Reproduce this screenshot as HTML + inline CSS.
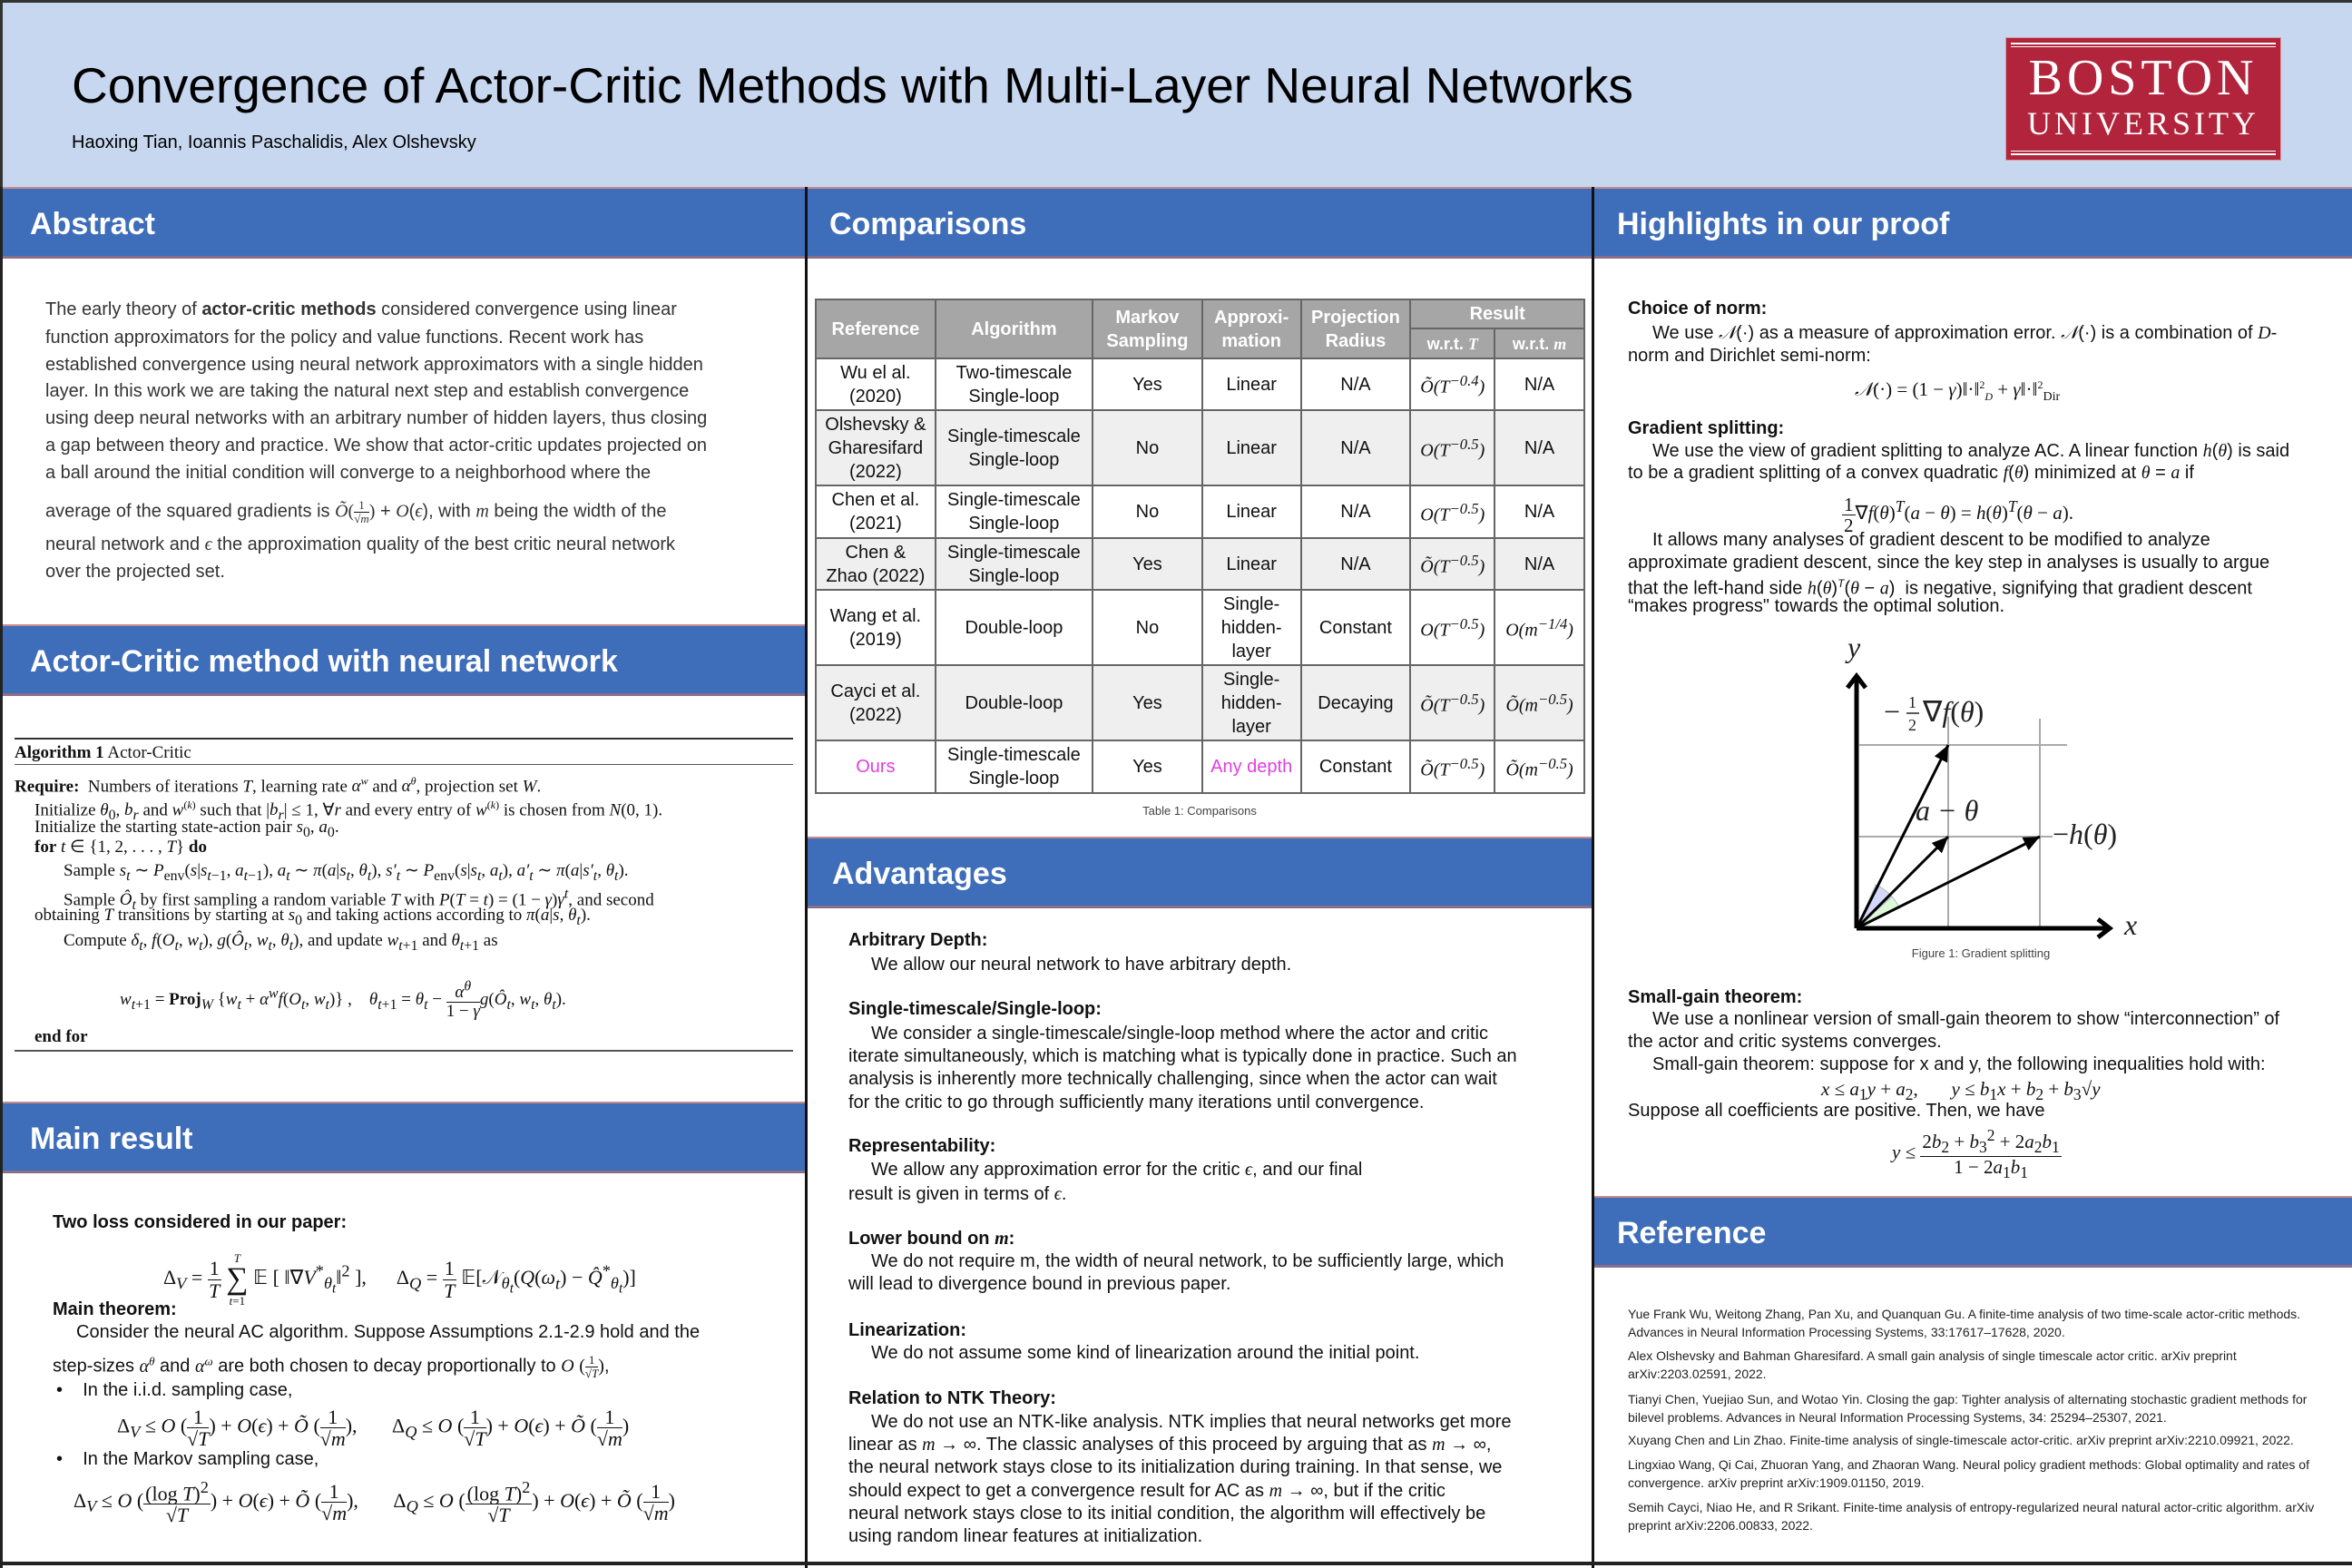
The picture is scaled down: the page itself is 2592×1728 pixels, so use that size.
<!DOCTYPE html>
<html><head><meta charset="utf-8">
<style>
*{margin:0;padding:0;box-sizing:border-box}
body{width:2592px;height:1728px;position:relative;background:#fff;overflow:hidden;font-family:"Liberation Sans",sans-serif;color:#111}
.a{position:absolute;white-space:nowrap;font-size:20px;line-height:24px}
.s{font-family:"Liberation Serif",serif}
.m{font-family:"Liberation Serif",serif;font-style:italic}
.hd{position:absolute;background:#3e6dba;border-top:2px solid #c98a8a;border-bottom:3px solid #8a6f8a;color:#fff;font-weight:bold;font-size:34px;line-height:78px;padding-left:30px}
.fr{display:inline-flex;flex-direction:column;vertical-align:middle;text-align:center;line-height:1.05}
.fr>span:first-child{border-bottom:1.5px solid #111;padding:0 2px}
.g{color:#333}
table{position:absolute;border-collapse:collapse;font-size:20px;line-height:26px;text-align:center}
td,th{border:2px solid #666;padding:0}
th{background:#a6a6a6;color:#fff;font-weight:bold}
tr.e td{background:#efefef}
.pk{color:#e040e0}
.alg{position:absolute;white-space:nowrap;font-family:"Liberation Serif",serif;font-size:19px;line-height:22px}
.ref{position:absolute;font-size:14px;line-height:20px;color:#222;white-space:nowrap}
</style></head><body>

<!-- header -->
<div style="position:absolute;left:0;top:0;width:2592px;height:206px;background:#c6d7ef;border-top:3px solid #333;border-left:3px solid #333"></div>
<div class="a" style="left:79px;top:66px;font-size:55px;line-height:56px;color:#000">Convergence of Actor-Critic Methods with Multi-Layer Neural Networks</div>
<div class="a" style="left:79px;top:145px;color:#000">Haoxing Tian, Ioannis Paschalidis, Alex Olshevsky</div>
<div style="position:absolute;left:2210px;top:41px;width:304px;height:136px;background:#b2243b;border:1px solid #d99"></div>
<div style="position:absolute;left:2216px;top:47px;width:292px;height:2px;background:#fff"></div>
<div style="position:absolute;left:2216px;top:51px;width:292px;height:1px;background:#fff"></div>
<div style="position:absolute;left:2216px;top:166px;width:292px;height:1px;background:#fff"></div>
<div style="position:absolute;left:2216px;top:169px;width:292px;height:2px;background:#fff"></div>
<div class="a s" style="left:2210px;width:304px;text-align:center;top:58px;font-size:56px;line-height:56px;color:#fff;letter-spacing:5px">BOSTON</div>
<div class="a s" style="left:2210px;width:304px;text-align:center;top:118px;font-size:36px;line-height:36px;color:#fff;letter-spacing:4px">UNIVERSITY</div>

<!-- column separators and borders -->
<div style="position:absolute;left:0;top:206px;width:3px;height:1522px;background:#222"></div>
<div style="position:absolute;left:887px;top:206px;width:3px;height:1522px;background:#111"></div>
<div style="position:absolute;left:1754px;top:206px;width:3px;height:1522px;background:#111"></div>
<div style="position:absolute;left:0;top:1721px;width:2592px;height:4px;background:#222"></div>

<!-- section headers -->
<div class="hd" style="left:3px;top:206px;width:884px;height:79px">Abstract</div>
<div class="hd" style="left:890px;top:206px;width:864px;height:79px;padding-left:24px">Comparisons</div>
<div class="hd" style="left:1757px;top:206px;width:835px;height:79px;padding-left:25px">Highlights in our proof</div>
<div class="hd" style="left:3px;top:688px;width:884px;height:79px">Actor-Critic method with neural network</div>
<div class="hd" style="left:3px;top:1214px;width:884px;height:79px">Main result</div>
<div class="hd" style="left:890px;top:922px;width:864px;height:79px;padding-left:27px">Advantages</div>
<div class="hd" style="left:1757px;top:1318px;width:835px;height:79px;padding-left:25px">Reference</div>

<!-- abstract -->
<div class="g">
<div class="a" style="left:50px;top:329px">The early theory of <b>actor-critic methods</b> considered convergence using linear</div>
<div class="a" style="left:50px;top:360px">function approximators for the policy and value functions. Recent work has</div>
<div class="a" style="left:50px;top:390px">established convergence using neural network approximators with a single hidden</div>
<div class="a" style="left:50px;top:419px">layer. In this work we are taking the natural next step and establish convergence</div>
<div class="a" style="left:50px;top:449px">using deep neural networks with an arbitrary number of hidden layers, thus closing</div>
<div class="a" style="left:50px;top:479px">a gap between theory and practice. We show that actor-critic updates projected on</div>
<div class="a" style="left:50px;top:509px">a ball around the initial condition will converge to a neighborhood where the</div>
<div class="a" style="left:50px;top:550px">average of the squared gradients is <span class="m">Õ</span><span class="s">(</span><span class="fr s" style="font-size:13px"><span>1</span><span>√<i>m</i></span></span><span class="s">)</span> + <span class="m">O</span>(<span class="m">ϵ</span>), with <span class="m">m</span> being the width of the</div>
<div class="a" style="left:50px;top:588px">neural network and <span class="m">ϵ</span> the approximation quality of the best critic neural network</div>
<div class="a" style="left:50px;top:618px">over the projected set.</div>
</div>

<!-- algorithm -->
<div style="position:absolute;left:16px;top:813px;width:858px;height:2px;background:#333"></div>
<div class="alg" style="left:16px;top:819px"><b>Algorithm 1</b> Actor-Critic</div>
<div style="position:absolute;left:16px;top:842px;width:858px;height:1px;background:#555"></div>
<div class="alg" style="left:16px;top:850px"><b>Require:</b>&nbsp; Numbers of iterations <i>T</i>, learning rate <i>α<sup style="font-size:12px">w</sup></i> and <i>α<sup style="font-size:12px">θ</sup></i>, projection set <i>W</i>.</div>
<div class="alg" style="left:38px;top:876px">Initialize <i>θ</i><sub>0</sub>, <i>b<sub>r</sub></i> and <i>w</i><sup style="font-size:12px">(<i>k</i>)</sup> such that |<i>b<sub>r</sub></i>| ≤ 1, ∀<i>r</i> and every entry of <i>w</i><sup style="font-size:12px">(<i>k</i>)</sup> is chosen from <i>N</i>(0, 1).</div>
<div class="alg" style="left:38px;top:901px">Initialize the starting state-action pair <i>s</i><sub>0</sub>, <i>a</i><sub>0</sub>.</div>
<div class="alg" style="left:38px;top:923px"><b>for</b> <i>t</i> ∈ {1, 2, . . . , <i>T</i>} <b>do</b></div>
<div class="alg" style="left:70px;top:949px">Sample <i>s<sub>t</sub></i> ∼ <i>P</i><sub>env</sub>(<i>s</i>|<i>s</i><sub><i>t</i>−1</sub>, <i>a</i><sub><i>t</i>−1</sub>), <i>a<sub>t</sub></i> ∼ <i>π</i>(<i>a</i>|<i>s<sub>t</sub></i>, <i>θ<sub>t</sub></i>), <i>s′<sub>t</sub></i> ∼ <i>P</i><sub>env</sub>(<i>s</i>|<i>s<sub>t</sub></i>, <i>a<sub>t</sub></i>), <i>a′<sub>t</sub></i> ∼ <i>π</i>(<i>a</i>|<i>s′<sub>t</sub></i>, <i>θ<sub>t</sub></i>).</div>
<div class="alg" style="left:70px;top:975px">Sample <i>Ô<sub>t</sub></i> by first sampling a random variable <i>T</i> with <i>P</i>(<i>T</i> = <i>t</i>) = (1 − <i>γ</i>)<i>γ<sup>t</sup></i>, and second</div>
<div class="alg" style="left:38px;top:998px">obtaining <i>T</i> transitions by starting at <i>s</i><sub>0</sub> and taking actions according to <i>π</i>(<i>a</i>|<i>s</i>, <i>θ<sub>t</sub></i>).</div>
<div class="alg" style="left:70px;top:1026px">Compute <i>δ<sub>t</sub></i>, <i>f</i>(<i>O<sub>t</sub></i>, <i>w<sub>t</sub></i>), <i>g</i>(<i>Ô<sub>t</sub></i>, <i>w<sub>t</sub></i>, <i>θ<sub>t</sub></i>), and update <i>w</i><sub><i>t</i>+1</sub> and <i>θ</i><sub><i>t</i>+1</sub> as</div>
<div class="alg" style="left:132px;top:1080px"><i>w</i><sub><i>t</i>+1</sub> = <b>Proj</b><sub><i>W</i></sub> {<i>w<sub>t</sub></i> + <i>α<sup>w</sup>f</i>(<i>O<sub>t</sub></i>, <i>w<sub>t</sub></i>)} ,&nbsp;&nbsp;&nbsp; <i>θ</i><sub><i>t</i>+1</sub> = <i>θ<sub>t</sub></i> − <span class="fr"><span><i>α<sup>θ</sup></i></span><span>1 − <i>γ</i></span></span><i>g</i>(<i>Ô<sub>t</sub></i>, <i>w<sub>t</sub></i>, <i>θ<sub>t</sub></i>).</div>
<div class="alg" style="left:38px;top:1132px"><b>end for</b></div>
<div style="position:absolute;left:16px;top:1157px;width:858px;height:2px;background:#555"></div>

<!-- main result -->
<div class="a" style="left:58px;top:1335px"><b>Two loss considered in our paper:</b></div>
<div class="a s" style="left:180px;top:1380px;font-size:22px;line-height:34px">Δ<sub><i>V</i></sub> = <span class="fr"><span>1</span><span><i>T</i></span></span> <span style="display:inline-flex;flex-direction:column;vertical-align:middle;text-align:center;line-height:1;font-size:13px"><i>T</i><span style="font-size:34px">∑</span><span><i>t</i>=1</span></span> 𝔼 [ ‖∇<i>V</i><sup>*</sup><sub><i>θ<sub>t</sub></i></sub>‖<sup>2</sup> ],&nbsp;&nbsp;&nbsp;&nbsp;&nbsp; Δ<sub><i>Q</i></sub> = <span class="fr"><span>1</span><span><i>T</i></span></span> 𝔼[𝒩<sub><i>θ<sub>t</sub></i></sub>(<i>Q</i>(<i>ω<sub>t</sub></i>) − <i>Q̂</i><sup>*</sup><sub><i>θ<sub>t</sub></i></sub>)]</div>
<div class="a" style="left:58px;top:1431px"><b>Main theorem:</b></div>
<div class="a" style="left:84px;top:1456px">Consider the neural AC algorithm. Suppose Assumptions 2.1-2.9 hold and the</div>
<div class="a" style="left:58px;top:1488px">step-sizes <span class="m">α<sup style="font-size:13px">θ</sup></span> and <span class="m">α<sup style="font-size:13px">ω</sup></span> are both chosen to decay proportionally to <span class="m">O</span> <span class="s">(</span><span class="fr s" style="font-size:13px"><span>1</span><span>√<i>T</i></span></span><span class="s">)</span>,</div>
<div class="a" style="left:62px;top:1520px">•&nbsp;&nbsp;&nbsp; In the i.i.d. sampling case,</div>
<div class="a s" style="left:129px;top:1550px;font-size:22px;line-height:40px">Δ<sub><i>V</i></sub> ≤ <i>O</i> (<span class="fr"><span>1</span><span>√<i>T</i></span></span>) + <i>O</i>(<i>ϵ</i>) + <i>Õ</i> (<span class="fr"><span>1</span><span>√<i>m</i></span></span>),&nbsp;&nbsp;&nbsp;&nbsp;&nbsp;&nbsp; Δ<sub><i>Q</i></sub> ≤ <i>O</i> (<span class="fr"><span>1</span><span>√<i>T</i></span></span>) + <i>O</i>(<i>ϵ</i>) + <i>Õ</i> (<span class="fr"><span>1</span><span>√<i>m</i></span></span>)</div>
<div class="a" style="left:62px;top:1596px">•&nbsp;&nbsp;&nbsp; In the Markov sampling case,</div>
<div class="a s" style="left:81px;top:1630px;font-size:22px;line-height:46px">Δ<sub><i>V</i></sub> ≤ <i>O</i> (<span class="fr"><span>(log <i>T</i>)<sup>2</sup></span><span>√<i>T</i></span></span>) + <i>O</i>(<i>ϵ</i>) + <i>Õ</i> (<span class="fr"><span>1</span><span>√<i>m</i></span></span>),&nbsp;&nbsp;&nbsp;&nbsp;&nbsp;&nbsp; Δ<sub><i>Q</i></sub> ≤ <i>O</i> (<span class="fr"><span>(log <i>T</i>)<sup>2</sup></span><span>√<i>T</i></span></span>) + <i>O</i>(<i>ϵ</i>) + <i>Õ</i> (<span class="fr"><span>1</span><span>√<i>m</i></span></span>)</div>

<!-- table -->
<table style="left:898px;top:329px;width:849px">
<colgroup><col style="width:132px"><col style="width:174px"><col style="width:121px"><col style="width:109px"><col style="width:121px"><col style="width:93px"><col style="width:99px"></colgroup>
<tr style="height:32px"><th rowspan="2">Reference</th><th rowspan="2">Algorithm</th><th rowspan="2">Markov<br>Sampling</th><th rowspan="2">Approxi-<br>mation</th><th rowspan="2">Projection<br>Radius</th><th colspan="2">Result</th></tr>
<tr style="height:33px"><th style="font-size:18px">w.r.t. <span class="m">T</span></th><th style="font-size:18px">w.r.t. <span class="m">m</span></th></tr>
<tr style="height:57px"><td>Wu el al.<br>(2020)</td><td>Two-timescale<br>Single-loop</td><td>Yes</td><td>Linear</td><td>N/A</td><td class="m">Õ(T<sup>−0.4</sup>)</td><td>N/A</td></tr>
<tr class="e" style="height:83px"><td>Olshevsky &amp;<br>Gharesifard<br>(2022)</td><td>Single-timescale<br>Single-loop</td><td>No</td><td>Linear</td><td>N/A</td><td class="m">O(T<sup>−0.5</sup>)</td><td>N/A</td></tr>
<tr style="height:58px"><td>Chen et al.<br>(2021)</td><td>Single-timescale<br>Single-loop</td><td>No</td><td>Linear</td><td>N/A</td><td class="m">O(T<sup>−0.5</sup>)</td><td>N/A</td></tr>
<tr class="e" style="height:57px"><td>Chen &amp;<br>Zhao (2022)</td><td>Single-timescale<br>Single-loop</td><td>Yes</td><td>Linear</td><td>N/A</td><td class="m">Õ(T<sup>−0.5</sup>)</td><td>N/A</td></tr>
<tr style="height:83px"><td>Wang et al.<br>(2019)</td><td>Double-loop</td><td>No</td><td>Single-<br>hidden-<br>layer</td><td>Constant</td><td class="m">O(T<sup>−0.5</sup>)</td><td class="m">O(m<sup>−1/4</sup>)</td></tr>
<tr class="e" style="height:83px"><td>Cayci et al.<br>(2022)</td><td>Double-loop</td><td>Yes</td><td>Single-<br>hidden-<br>layer</td><td>Decaying</td><td class="m">Õ(T<sup>−0.5</sup>)</td><td class="m">Õ(m<sup>−0.5</sup>)</td></tr>
<tr style="height:58px"><td class="pk">Ours</td><td>Single-timescale<br>Single-loop</td><td>Yes</td><td class="pk">Any depth</td><td>Constant</td><td class="m">Õ(T<sup>−0.5</sup>)</td><td class="m">Õ(m<sup>−0.5</sup>)</td></tr>
</table>
<div class="a" style="left:890px;width:864px;text-align:center;top:885px;font-size:13px;line-height:18px;color:#444">Table 1: Comparisons</div>

<!-- advantages -->
<div class="a" style="left:935px;top:1024px"><b>Arbitrary Depth:</b></div>
<div class="a" style="left:960px;top:1051px">We allow our neural network to have arbitrary depth.</div>
<div class="a" style="left:935px;top:1100px"><b>Single-timescale/Single-loop:</b></div>
<div class="a" style="left:960px;top:1127px">We consider a single-timescale/single-loop method where the actor and critic</div>
<div class="a" style="left:935px;top:1152px">iterate simultaneously, which is matching what is typically done in practice. Such an</div>
<div class="a" style="left:935px;top:1177px">analysis is inherently more technically challenging, since when the actor can wait</div>
<div class="a" style="left:935px;top:1203px">for the critic to go through sufficiently many iterations until convergence.</div>
<div class="a" style="left:935px;top:1251px"><b>Representability:</b></div>
<div class="a" style="left:960px;top:1277px">We allow any approximation error for the critic <span class="m">ϵ</span>, and our final</div>
<div class="a" style="left:935px;top:1304px">result is given in terms of <span class="m">ϵ</span>.</div>
<div class="a" style="left:935px;top:1353px"><b>Lower bound on <span class="m">m</span>:</b></div>
<div class="a" style="left:960px;top:1378px">We do not require m, the width of neural network, to be sufficiently large, which</div>
<div class="a" style="left:935px;top:1403px">will lead to divergence bound in previous paper.</div>
<div class="a" style="left:935px;top:1454px"><b>Linearization:</b></div>
<div class="a" style="left:960px;top:1479px">We do not assume some kind of linearization around the initial point.</div>
<div class="a" style="left:935px;top:1529px"><b>Relation to NTK Theory:</b></div>
<div class="a" style="left:960px;top:1555px">We do not use an NTK-like analysis. NTK implies that neural networks get more</div>
<div class="a" style="left:935px;top:1580px">linear as <span class="m">m</span> → ∞. The classic analyses of this proceed by arguing that as <span class="m">m</span> → ∞,</div>
<div class="a" style="left:935px;top:1605px">the neural network stays close to its initialization during training. In that sense, we</div>
<div class="a" style="left:935px;top:1631px">should expect to get a convergence result for AC as <span class="m">m</span> → ∞, but if the critic</div>
<div class="a" style="left:935px;top:1656px">neural network stays close to its initial condition, the algorithm will effectively be</div>
<div class="a" style="left:935px;top:1681px">using random linear features at initialization.</div>

<!-- highlights -->
<div class="a" style="left:1794px;top:328px"><b>Choice of norm:</b></div>
<div class="a" style="left:1821px;top:355px">We use <span class="m">𝒩</span>(·) as a measure of approximation error. <span class="m">𝒩</span>(·) is a combination of <span class="m">D</span>-</div>
<div class="a" style="left:1794px;top:380px">norm and Dirichlet semi-norm:</div>
<div class="a s" style="left:2044px;top:412px;font-size:21px"><i>𝒩</i>(·) = (1 − <i>γ</i>)‖·‖<sup style="font-size:12px">2</sup><sub style="font-size:12px"><i>D</i></sub> + <i>γ</i>‖·‖<sup style="font-size:12px">2</sup><sub style="font-size:14px">Dir</sub></div>
<div class="a" style="left:1794px;top:460px"><b>Gradient splitting:</b></div>
<div class="a" style="left:1821px;top:485px">We use the view of gradient splitting to analyze AC. A linear function <span class="m">h</span>(<span class="m">θ</span>) is said</div>
<div class="a" style="left:1794px;top:509px">to be a gradient splitting of a convex quadratic <span class="m">f</span>(<span class="m">θ</span>) minimized at <span class="m">θ</span> = <span class="m">a</span> if</div>
<div class="a s" style="left:2030px;top:541px;font-size:21px;line-height:34px"><span class="fr"><span>1</span><span>2</span></span>∇<i>f</i>(<i>θ</i>)<sup><i>T</i></sup>(<i>a</i> − <i>θ</i>) = <i>h</i>(<i>θ</i>)<sup><i>T</i></sup>(<i>θ</i> − <i>a</i>).</div>
<div class="a" style="left:1821px;top:583px">It allows many analyses of gradient descent to be modified to analyze</div>
<div class="a" style="left:1794px;top:608px">approximate gradient descent, since the key step in analyses is usually to argue</div>
<div class="a" style="left:1794px;top:631px">that the left-hand side <span class="m">h</span>(<span class="m">θ</span>)<sup style="font-size:12px"><i>T</i></sup>(<span class="m">θ</span> − <span class="m">a</span>)&nbsp; is negative, signifying that gradient descent</div>
<div class="a" style="left:1794px;top:656px">“makes progress" towards the optimal solution.</div>

<svg style="position:absolute;left:0;top:0" width="2592" height="1728" viewBox="0 0 2592 1728">
<defs>
<marker id="ar2" markerWidth="20" markerHeight="16" refX="18" refY="8" orient="auto" markerUnits="userSpaceOnUse"><path d="M0,0 L18,8 L0,16 z" fill="#000"/></marker></defs>
<g stroke="#aaa" stroke-width="2">
<line x1="2049" y1="821" x2="2278" y2="821"/><line x1="2049" y1="922" x2="2262" y2="922"/>
<line x1="2147" y1="790" x2="2147" y2="1023"/><line x1="2248" y1="792" x2="2248" y2="1023"/>
</g>
<path d="M2046,1023 L2067,975 A52,52 0 0 1 2085,988 Z" fill="#d4d8fb" stroke="#bbb"/>
<path d="M2046,1023 L2085,988 A52,52 0 0 1 2093,1000 Z" fill="#dcf9d8" stroke="#bbb"/>
<path d="M2046,1023 L2046,745 M2036,758 L2046,745 L2056,758" stroke="#000" stroke-width="5" fill="none"/>
<path d="M2046,1023 L2325,1023 M2312,1013 L2325,1023 L2312,1033" stroke="#000" stroke-width="5" fill="none"/>
<g stroke="#000" stroke-width="3">
<line x1="2046" y1="1023" x2="2147" y2="821" marker-end="url(#ar2)"/>
<line x1="2046" y1="1023" x2="2147" y2="922" marker-end="url(#ar2)"/>
<line x1="2046" y1="1023" x2="2248" y2="922" marker-end="url(#ar2)"/>
</g>
<g font-family="Liberation Serif, serif" font-style="italic" font-size="32" fill="#222">
<text x="2036" y="724">y</text>
<text x="2341" y="1030">x</text>
<text x="2111" y="904">a − θ</text>
<text x="2262" y="930" font-style="normal">−<tspan font-style="italic">h</tspan>(<tspan font-style="italic">θ</tspan>)</text>
<text x="2076" y="795" font-style="normal">−</text>
<text x="2103" y="780" font-size="18" font-style="normal">1</text>
<line x1="2101" y1="786" x2="2115" y2="786" stroke="#222" stroke-width="1.5"/>
<text x="2103" y="805" font-size="18" font-style="normal">2</text>
<text x="2119" y="795" font-style="normal">∇<tspan font-style="italic">f</tspan>(<tspan font-style="italic">θ</tspan>)</text>
</g>
<text x="2183" y="1055" font-family="Liberation Sans, sans-serif" font-size="13" fill="#444" text-anchor="middle">Figure 1: Gradient splitting</text>
</svg>

<div class="a" style="left:1794px;top:1087px"><b>Small-gain theorem:</b></div>
<div class="a" style="left:1821px;top:1111px">We use a nonlinear version of small-gain theorem to show “interconnection” of</div>
<div class="a" style="left:1794px;top:1136px">the actor and critic systems converges.</div>
<div class="a" style="left:1821px;top:1161px">Small-gain theorem: suppose for x and y, the following inequalities hold with:</div>
<div class="a s" style="left:2007px;top:1188px;font-size:21px"><i>x</i> ≤ <i>a</i><sub>1</sub><i>y</i> + <i>a</i><sub>2</sub>,&nbsp;&nbsp;&nbsp;&nbsp;&nbsp;&nbsp; <i>y</i> ≤ <i>b</i><sub>1</sub><i>x</i> + <i>b</i><sub>2</sub> + <i>b</i><sub>3</sub>√<i>y</i></div>
<div class="a" style="left:1794px;top:1212px">Suppose all coefficients are positive. Then, we have</div>
<div class="a s" style="left:2085px;top:1242px;font-size:21px;line-height:48px"><i>y</i> ≤ <span class="fr"><span>2<i>b</i><sub>2</sub> + <i>b</i><sub>3</sub><sup>2</sup> + 2<i>a</i><sub>2</sub><i>b</i><sub>1</sub></span><span>1 − 2<i>a</i><sub>1</sub><i>b</i><sub>1</sub></span></span></div>

<!-- references -->
<div class="ref" style="left:1794px;top:1438px">Yue Frank Wu, Weitong Zhang, Pan Xu, and Quanquan Gu. A finite-time analysis of two time-scale actor-critic methods.<br>Advances in Neural Information Processing Systems, 33:17617–17628, 2020.</div>
<div class="ref" style="left:1794px;top:1484px">Alex Olshevsky and Bahman Gharesifard. A small gain analysis of single timescale actor critic. arXiv preprint<br>arXiv:2203.02591, 2022.</div>
<div class="ref" style="left:1794px;top:1532px">Tianyi Chen, Yuejiao Sun, and Wotao Yin. Closing the gap: Tighter analysis of alternating stochastic gradient methods for<br>bilevel problems. Advances in Neural Information Processing Systems, 34: 25294–25307, 2021.</div>
<div class="ref" style="left:1794px;top:1577px">Xuyang Chen and Lin Zhao. Finite-time analysis of single-timescale actor-critic. arXiv preprint arXiv:2210.09921, 2022.</div>
<div class="ref" style="left:1794px;top:1604px">Lingxiao Wang, Qi Cai, Zhuoran Yang, and Zhaoran Wang. Neural policy gradient methods: Global optimality and rates of<br>convergence. arXiv preprint arXiv:1909.01150, 2019.</div>
<div class="ref" style="left:1794px;top:1651px">Semih Cayci, Niao He, and R Srikant. Finite-time analysis of entropy-regularized neural natural actor-critic algorithm. arXiv<br>preprint arXiv:2206.00833, 2022.</div>

</body></html>
